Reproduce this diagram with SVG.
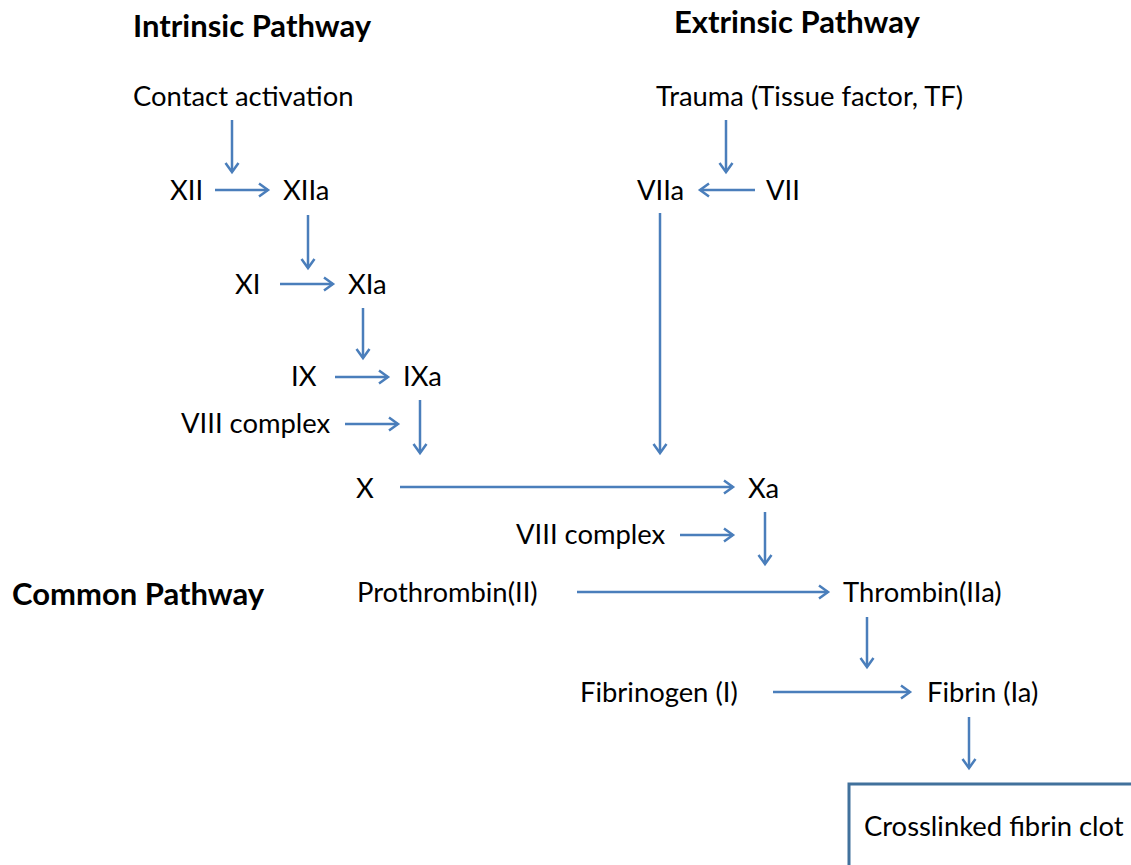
<svg xmlns="http://www.w3.org/2000/svg" width="1131" height="865" viewBox="0 0 1131 865">
<style>
text{font-family:Lato,"Open Sans","Liberation Sans",sans-serif;font-size:27.4px;fill:#000}
.h{font-weight:bold;font-size:31px}
.c line{stroke:#4a7ebb;stroke-width:2.5;fill:none;marker-end:url(#ah)}
.box{fill:#fff;stroke:#41719c;stroke-width:3}
</style>
<defs>
<marker id="ah" markerUnits="userSpaceOnUse" markerWidth="16" markerHeight="16" refX="13" refY="8" orient="auto">
<path d="M4,1.5 L13,8 L4,14.5" fill="none" stroke="#4a7ebb" stroke-width="2.5"/>
</marker>
</defs>
<rect width="1131" height="865" fill="#fff"/>
<g id="headings">
<text class="h" x="133" y="37">Intrinsic Pathway</text>
<text class="h" x="674" y="33">Extrinsic Pathway</text>
<text class="h" x="12" y="605">Common Pathway</text>
</g>
<g id="n-contact"><text x="133" y="106">Contact activation</text></g>
<g id="n-xii"><text x="170" y="200">XII</text></g>
<g id="n-xiia"><text x="283" y="200">XIIa</text></g>
<g id="n-xi"><text x="235" y="294">XI</text></g>
<g id="n-xia"><text x="348" y="294">XIa</text></g>
<g id="n-ix"><text x="291" y="386">IX</text></g>
<g id="n-ixa"><text x="403" y="386">IXa</text></g>
<g id="n-viii1"><text x="181" y="433">VIII complex</text></g>
<g id="n-x"><text x="356" y="498">X</text></g>
<g id="n-xa"><text x="748" y="498">Xa</text></g>
<g id="n-trauma"><text x="656" y="106">Trauma (Tissue factor, TF)</text></g>
<g id="n-viia"><text x="637" y="200">VIIa</text></g>
<g id="n-vii"><text x="766" y="200">VII</text></g>
<g id="n-viii2"><text x="516" y="544">VIII complex</text></g>
<g id="n-prothrombin"><text x="357" y="602">Prothrombin(II)</text></g>
<g id="n-thrombin"><text x="843" y="602">Thrombin(IIa)</text></g>
<g id="n-fibrinogen"><text x="580" y="702">Fibrinogen (I)</text></g>
<g id="n-fibrin"><text x="927" y="702">Fibrin (Ia)</text></g>
<g id="n-clot">
<rect class="box" x="849" y="784" width="300" height="100"/>
<text x="864" y="836">Crosslinked fibrin clot</text>
</g>
<g id="connectors" class="c">
<line x1="232" y1="120" x2="232" y2="172"/>
<line x1="215" y1="190" x2="268" y2="190"/>
<line x1="308" y1="215" x2="308" y2="268"/>
<line x1="280" y1="284" x2="333" y2="284"/>
<line x1="363" y1="308" x2="363" y2="358"/>
<line x1="335" y1="377" x2="388" y2="377"/>
<line x1="345" y1="424" x2="398" y2="424"/>
<line x1="420" y1="400" x2="420" y2="453"/>
<line x1="400" y1="487" x2="733" y2="487"/>
<line x1="726" y1="120" x2="726" y2="172"/>
<line x1="755" y1="190" x2="700" y2="190"/>
<line x1="660" y1="213" x2="660" y2="453"/>
<line x1="680" y1="535" x2="733" y2="535"/>
<line x1="765" y1="512" x2="765" y2="564"/>
<line x1="577" y1="592" x2="828" y2="592"/>
<line x1="867" y1="617" x2="867" y2="667"/>
<line x1="773" y1="692" x2="910" y2="692"/>
<line x1="969" y1="717" x2="969" y2="768"/>
</g>
</svg>
